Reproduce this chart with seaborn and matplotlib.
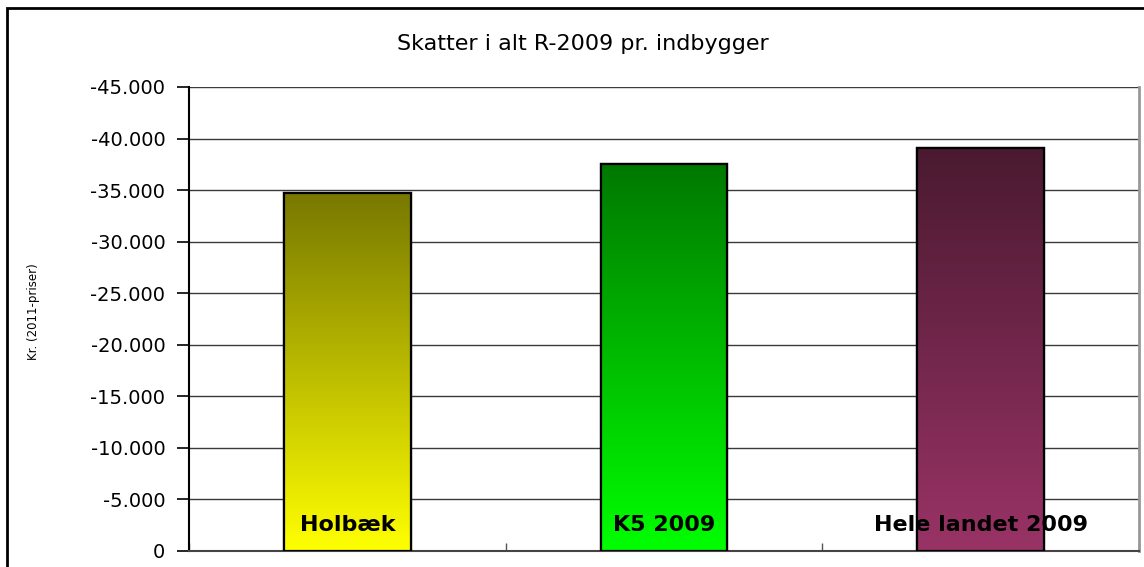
import numpy as np
import pandas as pd
import matplotlib
matplotlib.use("Agg")
import matplotlib.pyplot as plt
import matplotlib.colors as mcolors
from matplotlib.ticker import FuncFormatter, FixedLocator
from matplotlib.patches import Rectangle
import seaborn as sns

# ---- data ----
categories = ["Holbæk", "K5 2009", "Hele landet 2009"]
values = [-34700, -37500, -39100]
y_ticks = list(range(0, -45001, -5000))
title = "Skatter i alt R-2009 pr. indbygger"
y_label = "Kr. (2011-priser)"

# gradient colours (top -> bottom)
top_colors = ["#787800", "#007800", "#4A1A30"]
bottom_colors = ["#FFFF00", "#00FF00", "#993366"]

sns.set_theme(style="white")
plt.rcParams["font.family"] = ["DejaVu Sans"]

fig = plt.figure(figsize=(11.44, 5.67), dpi=100)
ax = fig.add_axes([189 / 1144, 1 - 551 / 567, (1139 - 189) / 1144, (551 - 87) / 567])

df = pd.DataFrame({"cat": categories, "val": values})
sns.barplot(data=df, x="cat", y="val", hue="cat", palette=bottom_colors,
            width=0.4, edgecolor="black", linewidth=1.6, legend=False, ax=ax, zorder=3)

# gradient fill for each bar
for patch, c_top, c_bot in zip(ax.patches, top_colors, bottom_colors):
    x0 = patch.get_x()
    w = patch.get_width()
    h = patch.get_height()
    n = 256
    t = np.linspace(0, 1, n)[:, None]
    ct = np.array(mcolors.to_rgb(c_top))
    cb = np.array(mcolors.to_rgb(c_bot))
    grad = (cb * (1 - t) + ct * t)[:, None, :]
    im = ax.imshow(grad, extent=(x0, x0 + w, 0, h), origin="lower",
                   aspect="auto", zorder=3.5, interpolation="bilinear")
    im.set_clip_path(patch)
    edge = Rectangle((x0, 0), w, h, fill=False, edgecolor="black",
                     linewidth=1.6, zorder=4)
    ax.add_patch(edge)

ax.set_xlim(-0.5, len(categories) - 0.5)
ax.set_ylim(0, -45000)
ax.yaxis.set_major_locator(FixedLocator(y_ticks))
ax.yaxis.set_major_formatter(FuncFormatter(lambda v, p: f"{int(v):,}".replace(",", ".")))
ax.tick_params(axis="y", which="major", direction="out", length=9, width=1.2,
               color="black", labelsize=14, pad=8, left=True, labelcolor="black")

ax.set_xticks([])
ax.set_xticks(np.arange(-0.5, len(categories), 1.0), minor=True)
ax.tick_params(axis="x", which="minor", direction="in", length=6, width=1,
               color="#555555", bottom=True)
ax.set_xlabel("")
ax.set_ylabel("")

ax.grid(axis="y", color="#3a3a3a", linewidth=1.0, zorder=0)
ax.set_axisbelow(True)
ax.spines["top"].set_visible(False)
ax.spines["left"].set_color("black")
ax.spines["left"].set_linewidth(1.5)
ax.spines["bottom"].set_color("#444444")
ax.spines["bottom"].set_linewidth(1.5)
ax.spines["right"].set_color("#999999")
ax.spines["right"].set_linewidth(2)

# category labels inside bars
for i, c in enumerate(categories):
    ax.text(i, 0.056, c, transform=ax.get_xaxis_transform(), ha="center",
            va="center", fontsize=16, fontweight="bold", color="black", zorder=6)

fig.text(583 / 1144, 1 - 44 / 567, title, ha="center", va="center",
         fontsize=16, color="black")
fig.text(33 / 1144, 1 - 312 / 567, y_label, ha="center", va="center",
         rotation=90, fontsize=8.5, color="black")

# outer chart frame
fig.patches.append(Rectangle((7 / 1144, -0.1), 1.2, 1 - 8 / 567 + 0.1,
                             transform=fig.transFigure, fill=False,
                             edgecolor="black", linewidth=2, zorder=10))

fig.savefig("out.png", dpi=100)
